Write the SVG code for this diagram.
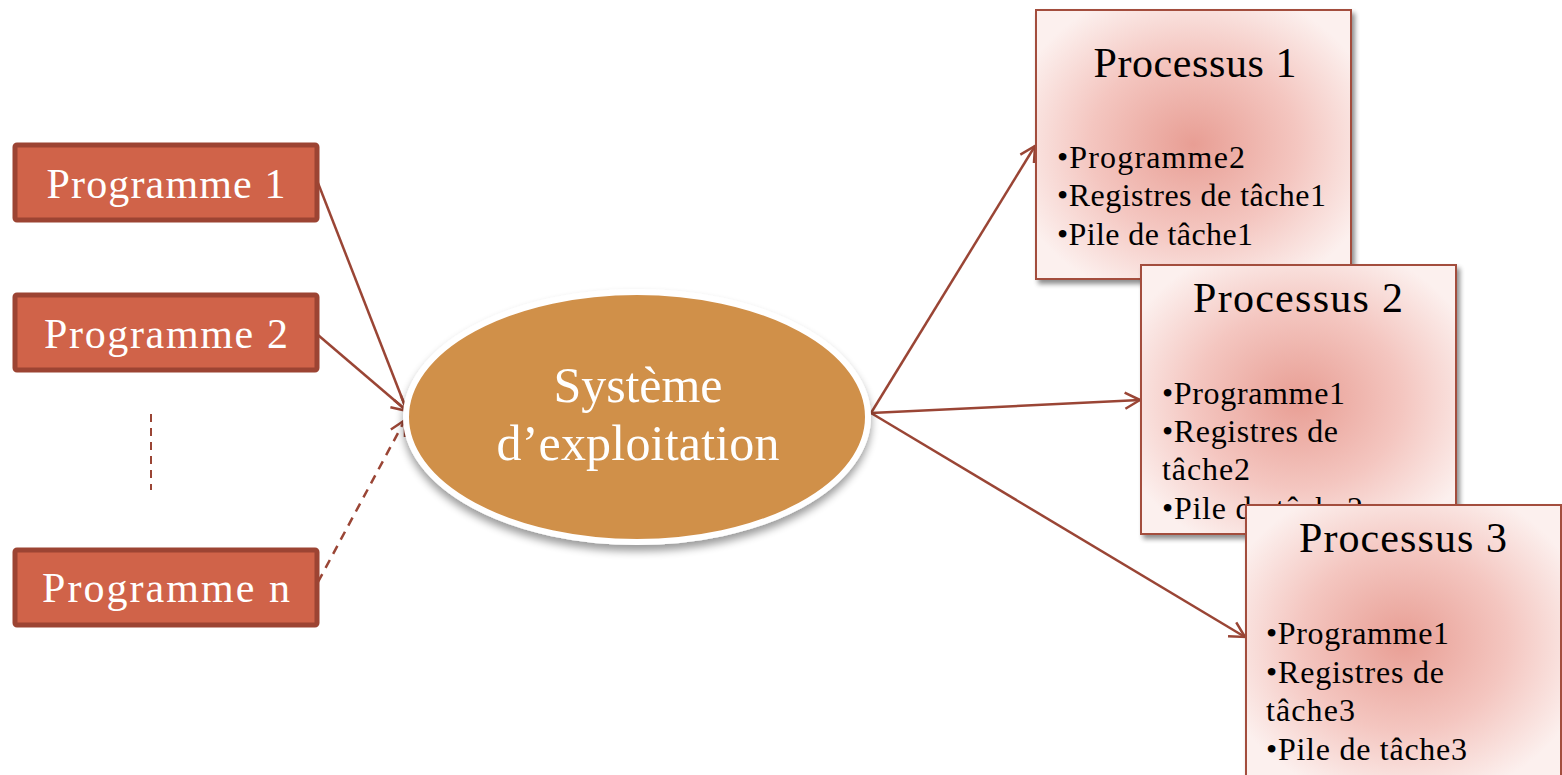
<svg xmlns="http://www.w3.org/2000/svg" width="1562" height="775" viewBox="0 0 1562 775">
  <style>
    .prog rect { fill: #D06349; stroke: #9C4433; stroke-width: 5; }
    .prog text { fill: #ffffff; font-family: "Liberation Serif", serif; font-size: 42px; text-anchor: middle; }
    .proc rect { fill: url(#procFill); stroke: #A34D3E; stroke-width: 2; filter: url(#shadow); }
    .proc .title { fill: #000; font-family: "Liberation Serif", serif; font-size: 42px; text-anchor: middle; }
    .proc .item { fill: #000; font-family: "Liberation Serif", serif; font-size: 32px; }
    .conn { stroke: #9A4535; stroke-width: 2.5; fill: none; marker-end: url(#openArrow); }
    .dash { stroke-dasharray: 9 7; }
  </style>
  <defs>
    <radialGradient id="procFill" cx="0.5" cy="0.5" r="0.6">
      <stop offset="0" stop-color="#E89E94"/>
      <stop offset="0.55" stop-color="#F4C6C0"/>
      <stop offset="1" stop-color="#FCF0EE"/>
    </radialGradient>
    <filter id="shadow" x="-10%" y="-10%" width="125%" height="125%">
      <feGaussianBlur in="SourceAlpha" stdDeviation="2.5"/>
      <feOffset dx="3" dy="4" result="b"/>
      <feComponentTransfer><feFuncA type="linear" slope="0.45"/></feComponentTransfer>
      <feMerge><feMergeNode/><feMergeNode in="SourceGraphic"/></feMerge>
    </filter>
    <filter id="ovalShadow" x="-10%" y="-10%" width="120%" height="130%">
      <feGaussianBlur in="SourceAlpha" stdDeviation="4"/>
      <feOffset dx="0" dy="6" result="b"/>
      <feComponentTransfer><feFuncA type="linear" slope="0.4"/></feComponentTransfer>
      <feMerge><feMergeNode/><feMergeNode in="SourceGraphic"/></feMerge>
    </filter>
    <marker id="openArrow" viewBox="0 0 20 20" refX="17" refY="10" markerWidth="20" markerHeight="20" markerUnits="userSpaceOnUse" orient="auto">
      <path d="M2,2 L17,10 L2,18" fill="none" stroke="#9A4535" stroke-width="2.5"/>
    </marker>
  </defs>

  <!-- connectors -->
  <g id="connectors">
    <line class="conn" x1="318" y1="183" x2="407" y2="411"/>
    <line class="conn" x1="318" y1="335" x2="407" y2="411"/>
    <line class="conn dash" x1="318" y1="582" x2="405" y2="420"/>
    <line class="conn" x1="871" y1="413" x2="1035" y2="146"/>
    <line class="conn" x1="871" y1="413" x2="1140" y2="400"/>
    <line class="conn" x1="871" y1="413" x2="1245" y2="637"/>
    <line x1="151" y1="414" x2="151" y2="490" stroke="#9A4535" stroke-width="2" stroke-dasharray="8 6"/>
  </g>

  <!-- programs -->
  <g id="prog1" class="prog">
    <rect x="15" y="145" width="302" height="75" rx="2"/>
    <text x="166" y="198" textLength="239">Programme 1</text>
  </g>
  <g id="prog2" class="prog">
    <rect x="15" y="295" width="302" height="75" rx="2"/>
    <text x="166" y="348" textLength="244">Programme 2</text>
  </g>
  <g id="progn" class="prog">
    <rect x="15" y="550" width="302" height="75" rx="2"/>
    <text x="166" y="602" textLength="248">Programme n</text>
  </g>

  <!-- operating system -->
  <g id="os">
    <ellipse cx="637" cy="417" rx="231" ry="125" fill="#D0904A" stroke="#ffffff" stroke-width="6" filter="url(#ovalShadow)"/>
    <text x="638" y="402" fill="#ffffff" font-family="Liberation Serif, serif" font-size="50" text-anchor="middle" textLength="169">Système</text>
    <text x="638" y="460" fill="#ffffff" font-family="Liberation Serif, serif" font-size="50" text-anchor="middle" textLength="283">d’exploitation</text>
  </g>

  <!-- processes -->
  <g id="proc1" class="proc">
    <rect x="1036" y="10" width="315" height="269"/>
    <text class="title" x="1195" y="77" textLength="203">Processus 1</text>
    <text class="item" x="1057" y="168" textLength="188">•Programme2</text>
    <text class="item" x="1057" y="206" textLength="269">•Registres de tâche1</text>
    <text class="item" x="1057" y="245" textLength="196">•Pile de tâche1</text>
  </g>
  <g id="proc2" class="proc">
    <rect x="1141" y="265" width="315" height="269"/>
    <text class="title" x="1298" y="312" textLength="210">Processus 2</text>
    <text class="item" x="1162" y="404" textLength="183">•Programme1</text>
    <text class="item" x="1162" y="442" textLength="176">•Registres de</text>
    <text class="item" x="1162" y="480" textLength="88">tâche2</text>
    <text class="item" x="1162" y="519" textLength="201">•Pile de tâche2</text>
  </g>
  <g id="proc3" class="proc">
    <rect x="1246" y="505" width="315" height="272"/>
    <text class="title" x="1403" y="552" textLength="208">Processus 3</text>
    <text class="item" x="1266" y="644" textLength="183">•Programme1</text>
    <text class="item" x="1266" y="683" textLength="178">•Registres de</text>
    <text class="item" x="1266" y="721" textLength="89">tâche3</text>
    <text class="item" x="1266" y="760" textLength="201">•Pile de tâche3</text>
  </g>
</svg>
